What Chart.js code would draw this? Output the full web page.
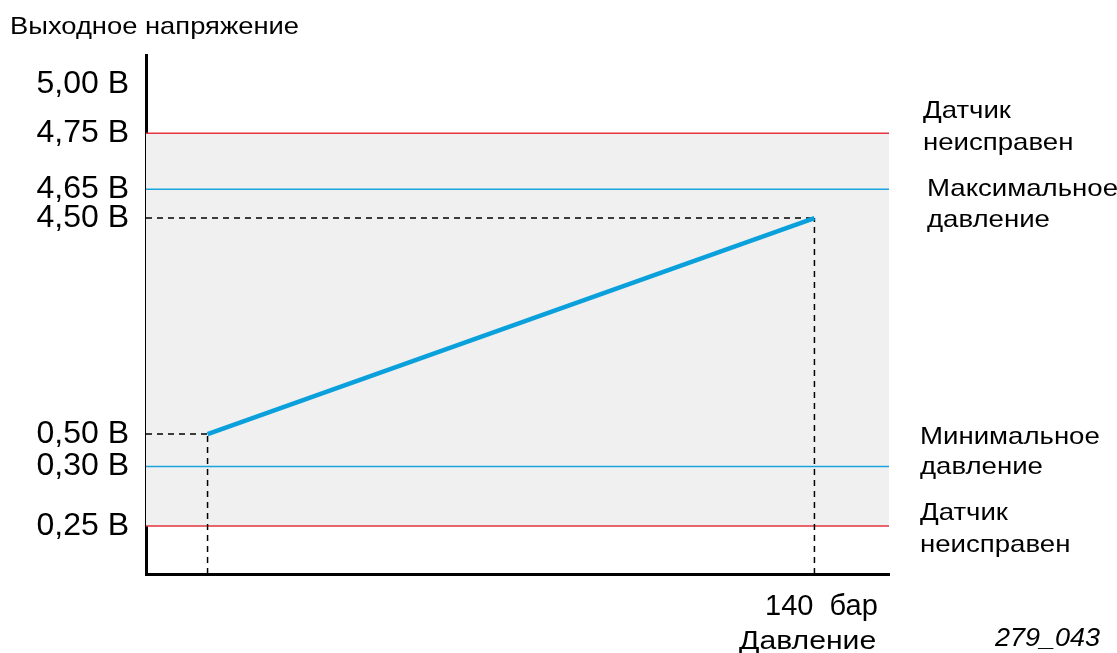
<!DOCTYPE html>
<html>
<head>
<meta charset="utf-8">
<script src="https://cdn.jsdelivr.net/npm/chart.js@4"></script>
<style>
html,body{margin:0;padding:0;background:#fff;}
canvas{display:block;}
</style>
</head>
<body>
<canvas id="c" width="1117" height="653"></canvas>
<script>
// ---- data ----
const pressureBar = [0, 140];            // bar
const outputVoltage = [0.50, 4.50];      // V
const yTickValues = [0.25, 0.30, 0.50, 4.50, 4.65, 4.75, 5.00];
const xTickValues = [140];
const faultLevels = [4.75, 0.25];        // sensor faulty
const pressureLimits = [4.65, 0.30];     // max / min pressure
const yAxisTitle = 'Выходное напряжение';
const xAxisTitle = 'Давление';
const figureId = '279_043';

// ---- schematic (non-linear) voltage scale ----
const knotValues    = [0, 0.25, 0.30, 0.50, 4.50, 4.65, 4.75, 5.00, 5.30];
const knotFractions = [0, 0.0925, 0.2071, 0.2697, 0.6859, 0.7412, 0.8493, 0.9441, 1];

class SchematicScale extends Chart.LinearScale {
  _frac(v) {
    if (v <= knotValues[0]) return knotFractions[0];
    for (let i = 1; i < knotValues.length; i++) {
      if (v <= knotValues[i]) {
        const t = (v - knotValues[i-1]) / (knotValues[i] - knotValues[i-1]);
        return knotFractions[i-1] + t * (knotFractions[i] - knotFractions[i-1]);
      }
    }
    return 1;
  }
  getPixelForValue(v) { return this.getPixelForDecimal(this._frac(v)); }
  getValueForPixel(p) {
    const f = this.getDecimalForPixel(p);
    for (let i = 1; i < knotFractions.length; i++) {
      if (f <= knotFractions[i]) {
        const t = (f - knotFractions[i-1]) / (knotFractions[i] - knotFractions[i-1]);
        return knotValues[i-1] + t * (knotValues[i] - knotValues[i-1]);
      }
    }
    return knotValues[knotValues.length-1];
  }
}
SchematicScale.id = 'schematic';
SchematicScale.defaults = Chart.LinearScale.defaults;
Chart.register(SchematicScale);

const X_MIN = -14.2, X_MAX = 157.2, Y_MIN = 0, Y_MAX = 5.30;
const RED = '#e5343f', BLUE = '#1aa3dc', LINE = '#0aa0dc', GRAY = '#f0f0f0';
const FONT = '"Liberation Sans", Arial, Helvetica, sans-serif';

const hLine = (y, x0, x1) => [{x: x0, y}, {x: x1, y}];
const vLine = (x, y0, y1) => [{x, y: y0}, {x, y: y1}];
const dash = [6, 5];

const datasets = [
  { data: pressureBar.map((p, i) => ({x: p, y: outputVoltage[i]})), borderColor: LINE, borderWidth: 4.5, borderCapStyle: 'butt' },
  { data: hLine(outputVoltage[1], X_MIN, pressureBar[1]), borderColor: '#000', borderWidth: 1.5, borderDash: dash },
  { data: vLine(pressureBar[1], Y_MIN, outputVoltage[1]), borderColor: '#000', borderWidth: 1.5, borderDash: dash },
  { data: hLine(outputVoltage[0], X_MIN, pressureBar[0]), borderColor: '#000', borderWidth: 1.5, borderDash: dash },
  { data: vLine(pressureBar[0], Y_MIN, outputVoltage[0]), borderColor: '#000', borderWidth: 1.5, borderDash: dash },
  { data: hLine(pressureLimits[0], X_MIN, X_MAX), borderColor: BLUE, borderWidth: 1.5 },
  { data: hLine(pressureLimits[1], X_MIN, X_MAX), borderColor: BLUE, borderWidth: 1.5 },
  { data: hLine(faultLevels[0], X_MIN, X_MAX), borderColor: RED, borderWidth: 1.5 },
  { data: hLine(faultLevels[1], X_MIN, X_MAX), borderColor: RED, borderWidth: 1.5 },
  { data: hLine(faultLevels[0], X_MIN, X_MAX), borderWidth: 0, fill: '+1', backgroundColor: GRAY },
  { data: hLine(faultLevels[1], X_MIN, X_MAX), borderWidth: 0 }
].map(d => Object.assign({ pointRadius: 0, tension: 0, fill: false }, d));

const textPlugin = {
  id: 'texts',
  afterDraw(chart) {
    const ctx = chart.ctx;
    const txt = (s, x, y, size, sx, style) => {
      ctx.save();
      ctx.translate(x, y);
      ctx.scale(sx, 1);
      ctx.fillStyle = '#000';
      ctx.textBaseline = 'alphabetic';
      ctx.textAlign = 'left';
      ctx.font = (style ? style + ' ' : '') + size + 'px ' + FONT;
      ctx.fillText(s, 0, 0);
      ctx.restore();
    };
    txt(yAxisTitle, 10, 34, 24, 1.14);
    txt('Датчик', 923, 118, 24, 1.15);
    txt('неисправен', 923, 150, 24, 1.15);
    txt('Максимальное', 927, 196, 24, 1.15);
    txt('давление', 927, 227, 24, 1.15);
    txt('Минимальное', 920, 444, 24, 1.15);
    txt('давление', 920, 474, 24, 1.15);
    txt('Датчик', 920, 520, 24, 1.15);
    txt('неисправен', 920, 552, 24, 1.15);
    txt(xAxisTitle, 739, 649, 26, 1.16);
    txt(figureId, 995, 646, 25, 1.08, 'italic');
  }
};

new Chart(document.getElementById('c'), {
  type: 'line',
  data: { datasets },
  plugins: [textPlugin],
  options: {
    responsive: false,
    animation: false,
    events: [],
    layout: { padding: { left: 0, right: 1117 - 889, top: 55, bottom: 0 } },
    plugins: { legend: { display: false }, tooltip: { enabled: false }, title: { display: false } },
    scales: {
      x: {
        type: 'linear', min: X_MIN, max: X_MAX,
        afterFit(s) { s.height = 653 - 574; },
        afterBuildTicks(s) { s.ticks = xTickValues.map(v => ({ value: v })); },
        grid: { display: false, drawTicks: false },
        border: { display: true, color: '#000', width: 3 },
        ticks: {
          autoSkip: false, maxRotation: 0, padding: 16, labelOffset: 7, color: '#000',
          font: { family: FONT, size: 29 },
          callback: v => v + '  бар'
        }
      },
      y: {
        type: 'schematic', min: Y_MIN, max: Y_MAX,
        afterFit(s) { s.width = 146; },
        afterBuildTicks(s) { s.ticks = yTickValues.map(v => ({ value: v })); },
        grid: { display: false, drawTicks: false },
        border: { display: true, color: '#000', width: 3 },
        ticks: {
          autoSkip: false, padding: 17, color: '#000',
          font: { family: FONT, size: 32 },
          callback: v => v.toFixed(2).replace('.', ',') + ' В'
        }
      }
    }
  }
});
</script>
</body>
</html>
